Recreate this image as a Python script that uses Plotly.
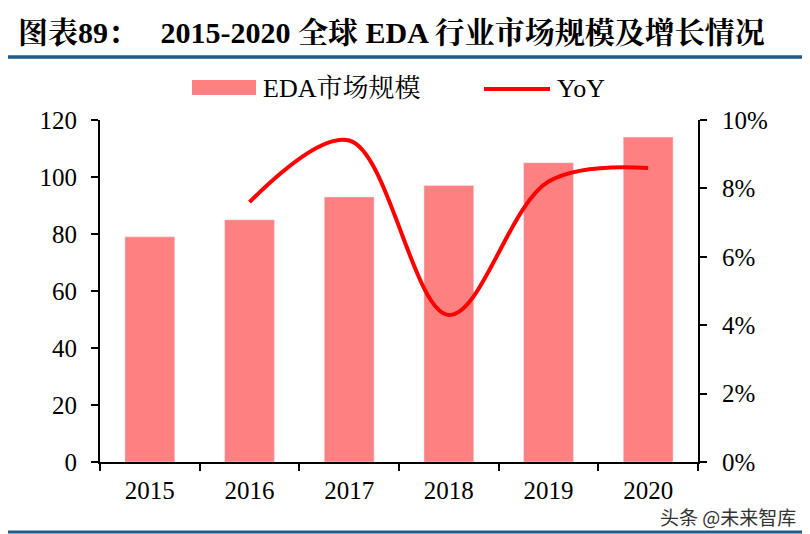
import plotly.graph_objects as go

years = ["2015", "2016", "2017", "2018", "2019", "2020"]
market_size = [79, 85, 93, 97, 105, 114]
yoy_years = ["2016", "2017", "2018", "2019", "2020"]
yoy = [0.076, 0.094, 0.043, 0.082, 0.086]
left_ticks = [0, 20, 40, 60, 80, 100, 120]
right_ticks = [0, 0.02, 0.04, 0.06, 0.08, 0.10]

serif = "Liberation Serif, Times New Roman, Noto Serif CJK SC, Noto Sans CJK SC, serif"
bar_color = "#FF8080"
line_color = "#FF0000"
rule_color = "#1F5A8A"

# page coordinates -> paper coordinates (plot area spans x 100..698, y 120..462 on the page)
def px(x):
    return (x - 100) / 598

def py(y):
    return (462 - y) / 342

fig = go.Figure()
fig.add_trace(go.Bar(x=years, y=market_size, name="EDA市场规模", marker_color=bar_color,
                     width=0.5, showlegend=False))
fig.add_trace(go.Scatter(x=yoy_years, y=yoy, name="YoY", yaxis="y2", mode="lines",
                         line=dict(color=line_color, width=4, shape="spline", smoothing=1.0),
                         showlegend=False))

# the page body has an 8px margin, so the figure is 802x526 and offset by 8px
fig.update_layout(
    width=802, height=526,
    margin=dict(l=92, r=112, t=112, b=72),
    paper_bgcolor="white", plot_bgcolor="white",
    font=dict(family=serif, size=25, color="black"),
    xaxis=dict(type="category", range=[-0.5, 5.5], showline=True, linecolor="black", linewidth=2,
               ticks="outside", ticklen=7, tickwidth=2, tickcolor="black", tickson="boundaries",
               showgrid=False, tickfont=dict(size=25), ticklabelstandoff=5),
    yaxis=dict(range=[0, 120], tickvals=left_ticks, showline=True, linecolor="black", linewidth=2,
               ticks="outside", ticklen=7, tickwidth=2, tickcolor="black", showgrid=False,
               zeroline=False, tickfont=dict(size=25), ticklabelstandoff=9),
    yaxis2=dict(range=[0, 0.10], tickvals=right_ticks, tickformat=".0%", overlaying="y", side="right",
                showline=True, linecolor="black", linewidth=2, ticks="outside", ticklen=7, tickwidth=2,
                tickcolor="black", showgrid=False, zeroline=False, tickfont=dict(size=25),
                ticklabelstandoff=10),
    bargap=0.5,
)

# Title
fig.add_annotation(text="<b>图表89：   2015-2020 全球 EDA 行业市场规模及增长情况</b>",
                   xref="paper", yref="paper", x=px(16), y=py(32), xanchor="left", yanchor="middle",
                   showarrow=False, font=dict(family=serif, size=30, color="black"))
# Rules
fig.add_shape(type="line", xref="paper", yref="paper", x0=px(0), x1=px(810), y0=py(57), y1=py(57),
              line=dict(color=rule_color, width=3.5))
fig.add_shape(type="line", xref="paper", yref="paper", x0=px(0), x1=px(810), y0=py(532), y1=py(532),
              line=dict(color=rule_color, width=3))

# Custom legend
fig.add_shape(type="rect", xref="paper", yref="paper", x0=px(192), x1=px(256),
              y0=py(95), y1=py(80), fillcolor=bar_color, line=dict(width=0))
fig.add_annotation(text="EDA市场规模", xref="paper", yref="paper", x=px(261), y=py(88),
                   xanchor="left", yanchor="middle", showarrow=False, font=dict(family=serif, size=26))
fig.add_shape(type="line", xref="paper", yref="paper", x0=px(484), x1=px(550),
              y0=py(89), y1=py(89), line=dict(color=line_color, width=4))
fig.add_annotation(text="YoY", xref="paper", yref="paper", x=px(555), y=py(88),
                   xanchor="left", yanchor="middle", showarrow=False, font=dict(family=serif, size=26))

# Watermark
fig.add_annotation(text="头条 @未来智库", xref="paper", yref="paper", x=px(798), y=py(517),
                   xanchor="right", yanchor="middle", showarrow=False,
                   font=dict(family="Noto Sans CJK SC, sans-serif", size=19, color="#333333"))

fig.write_html("out.html")
